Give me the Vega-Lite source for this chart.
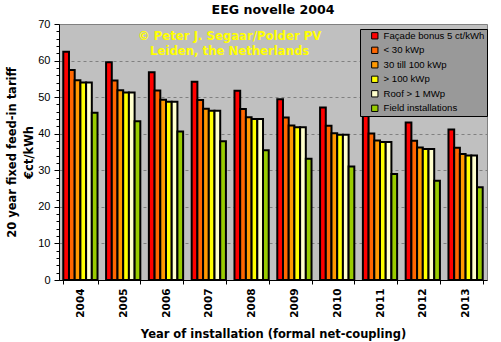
{
  "$schema": "https://vega.github.io/schema/vega-lite/v6.json",
  "width": 428,
  "height": 256,
  "autosize": "none",
  "padding": {"left": 59, "top": 24, "right": 14, "bottom": 62},
  "background": "white",
  "title": {"text": "EEG novelle 2004", "font": "DejaVu Sans", "fontWeight": "bold", "fontSize": 12.6, "color": "black", "offset": 1, "anchor": "middle"},
  "config": {"view": {"fill": "#C0C0C0", "stroke": "#808080", "strokeWidth": 1}},
  "data": {"values": [
    {"year": "2004", "category": "Façade bonus 5 ct/kWh", "tariff": 62.40},
    {"year": "2004", "category": "< 30 kWp", "tariff": 57.40},
    {"year": "2004", "category": "30 till 100 kWp", "tariff": 54.60},
    {"year": "2004", "category": "> 100 kWp", "tariff": 54.00},
    {"year": "2004", "category": "Roof > 1 MWp", "tariff": 54.00},
    {"year": "2004", "category": "Field installations", "tariff": 45.70},
    {"year": "2005", "category": "Façade bonus 5 ct/kWh", "tariff": 59.53},
    {"year": "2005", "category": "< 30 kWp", "tariff": 54.53},
    {"year": "2005", "category": "30 till 100 kWp", "tariff": 51.87},
    {"year": "2005", "category": "> 100 kWp", "tariff": 51.30},
    {"year": "2005", "category": "Roof > 1 MWp", "tariff": 51.30},
    {"year": "2005", "category": "Field installations", "tariff": 43.40},
    {"year": "2006", "category": "Façade bonus 5 ct/kWh", "tariff": 56.80},
    {"year": "2006", "category": "< 30 kWp", "tariff": 51.80},
    {"year": "2006", "category": "30 till 100 kWp", "tariff": 49.28},
    {"year": "2006", "category": "> 100 kWp", "tariff": 48.74},
    {"year": "2006", "category": "Roof > 1 MWp", "tariff": 48.74},
    {"year": "2006", "category": "Field installations", "tariff": 40.60},
    {"year": "2007", "category": "Façade bonus 5 ct/kWh", "tariff": 54.21},
    {"year": "2007", "category": "< 30 kWp", "tariff": 49.21},
    {"year": "2007", "category": "30 till 100 kWp", "tariff": 46.82},
    {"year": "2007", "category": "> 100 kWp", "tariff": 46.30},
    {"year": "2007", "category": "Roof > 1 MWp", "tariff": 46.30},
    {"year": "2007", "category": "Field installations", "tariff": 37.96},
    {"year": "2008", "category": "Façade bonus 5 ct/kWh", "tariff": 51.75},
    {"year": "2008", "category": "< 30 kWp", "tariff": 46.75},
    {"year": "2008", "category": "30 till 100 kWp", "tariff": 44.48},
    {"year": "2008", "category": "> 100 kWp", "tariff": 43.99},
    {"year": "2008", "category": "Roof > 1 MWp", "tariff": 43.99},
    {"year": "2008", "category": "Field installations", "tariff": 35.49},
    {"year": "2009", "category": "Façade bonus 5 ct/kWh", "tariff": 49.41},
    {"year": "2009", "category": "< 30 kWp", "tariff": 44.41},
    {"year": "2009", "category": "30 till 100 kWp", "tariff": 42.26},
    {"year": "2009", "category": "> 100 kWp", "tariff": 41.79},
    {"year": "2009", "category": "Roof > 1 MWp", "tariff": 41.79},
    {"year": "2009", "category": "Field installations", "tariff": 33.18},
    {"year": "2010", "category": "Façade bonus 5 ct/kWh", "tariff": 47.19},
    {"year": "2010", "category": "< 30 kWp", "tariff": 42.19},
    {"year": "2010", "category": "30 till 100 kWp", "tariff": 40.15},
    {"year": "2010", "category": "> 100 kWp", "tariff": 39.70},
    {"year": "2010", "category": "Roof > 1 MWp", "tariff": 39.70},
    {"year": "2010", "category": "Field installations", "tariff": 31.02},
    {"year": "2011", "category": "Façade bonus 5 ct/kWh", "tariff": 45.08},
    {"year": "2011", "category": "< 30 kWp", "tariff": 40.08},
    {"year": "2011", "category": "30 till 100 kWp", "tariff": 38.14},
    {"year": "2011", "category": "> 100 kWp", "tariff": 37.71},
    {"year": "2011", "category": "Roof > 1 MWp", "tariff": 37.71},
    {"year": "2011", "category": "Field installations", "tariff": 29.00},
    {"year": "2012", "category": "Façade bonus 5 ct/kWh", "tariff": 43.08},
    {"year": "2012", "category": "< 30 kWp", "tariff": 38.08},
    {"year": "2012", "category": "30 till 100 kWp", "tariff": 36.23},
    {"year": "2012", "category": "> 100 kWp", "tariff": 35.83},
    {"year": "2012", "category": "Roof > 1 MWp", "tariff": 35.83},
    {"year": "2012", "category": "Field installations", "tariff": 27.12},
    {"year": "2013", "category": "Façade bonus 5 ct/kWh", "tariff": 41.18},
    {"year": "2013", "category": "< 30 kWp", "tariff": 36.18},
    {"year": "2013", "category": "30 till 100 kWp", "tariff": 34.42},
    {"year": "2013", "category": "> 100 kWp", "tariff": 34.04},
    {"year": "2013", "category": "Roof > 1 MWp", "tariff": 34.04},
    {"year": "2013", "category": "Field installations", "tariff": 25.36}
  ]},
  "resolve": {"axis": {"x": "independent", "y": "independent"}},
  "layer": [
    {
      "mark": {"type": "bar", "stroke": "black", "strokeWidth": 2},
      "encoding": {
        "x": {
          "field": "year", "type": "nominal",
          "scale": {"paddingInner": 0.2, "paddingOuter": 0.1},
          "axis": {
            "title": "Year of installation (formal net-coupling)",
            "labelAngle": -90, "labelFont": "DejaVu Sans", "labelFontWeight": "bold", "labelFontSize": 10.5,
            "labelColor": "black", "labelPadding": 4,
            "tickBand": "extent", "tickSize": 4, "tickColor": "black", "domainColor": "black",
            "titleFont": "DejaVu Sans", "titleFontSize": 11.5, "titleFontWeight": "bold", "titleColor": "black", "titlePadding": 11,
            "grid": false
          }
        },
        "xOffset": {
          "field": "category", "type": "nominal",
          "scale": {"domain": ["Façade bonus 5 ct/kWh", "< 30 kWp", "30 till 100 kWp", "> 100 kWp", "Roof > 1 MWp", "Field installations"], "paddingInner": 0, "paddingOuter": 0}
        },
        "y": {
          "field": "tariff", "type": "quantitative",
          "scale": {"domain": [0, 70], "nice": false},
          "axis": {
            "values": [0, 2, 4, 6, 8, 10, 12, 14, 16, 18, 20, 22, 24, 26, 28, 30, 32, 34, 36, 38, 40, 42, 44, 46, 48, 50, 52, 54, 56, 58, 60, 62, 64, 66, 68, 70],
            "labelExpr": "datum.value % 10 === 0 ? datum.label : ''",
            "labelOverlap": false,
            "tickSize": {"condition": {"test": "datum.value % 10 === 0", "value": 5}, "value": 3},
            "gridColor": {"condition": {"test": "datum.value % 10 === 0 && datum.value > 0 && datum.value < 70", "value": "#808080"}, "value": "transparent"},
            "gridDash": [3, 3], "grid": true,
            "tickColor": "black", "domainColor": "black",
            "labelFont": "Liberation Sans", "labelFontSize": 11, "labelColor": "black", "labelPadding": 4,
            "title": ["20 year fixed feed-in tariff", "€ct/kWh"],
            "titleFont": "DejaVu Sans", "titleFontSize": 11.5, "titleFontWeight": "bold", "titleColor": "black",
            "titleLineHeight": 17, "titlePadding": 3
          }
        },
        "color": {
          "field": "category", "type": "nominal",
          "scale": {
            "domain": ["Façade bonus 5 ct/kWh", "< 30 kWp", "30 till 100 kWp", "> 100 kWp", "Roof > 1 MWp", "Field installations"],
            "range": ["#FF0000", "#FF6600", "#FF9900", "#FFFF00", "#FFFFCC", "#99CC00"]
          },
          "legend": {
            "title": null, "orient": "none", "legendX": 301, "legendY": 5,
            "fillColor": "#999999", "strokeColor": "black", "padding": 2,
            "symbolType": "square", "symbolSize": 40, "symbolStrokeColor": "black", "symbolStrokeWidth": 1, "symbolOffset": 8,
            "labelFont": "Liberation Sans", "labelFontSize": 9.6, "labelColor": "black", "labelOffset": 4,
            "rowPadding": 3.5
          }
        }
      }
    },
    {
      "data": {"values": [{"note": "watermark"}]},
      "mark": {"type": "text", "text": ["© Peter J. Segaar/Polder PV", "Leiden, the Netherlands"], "font": "DejaVu Sans", "fontWeight": "bold", "fontSize": 11.7, "fill": "#FFFF00", "lineHeight": 15, "align": "center", "baseline": "middle"},
      "encoding": {
        "x": {"datum": "2007", "bandPosition": 1.11, "axis": null},
        "y": {"datum": 66.6, "axis": null}
      }
    }
  ]
}
